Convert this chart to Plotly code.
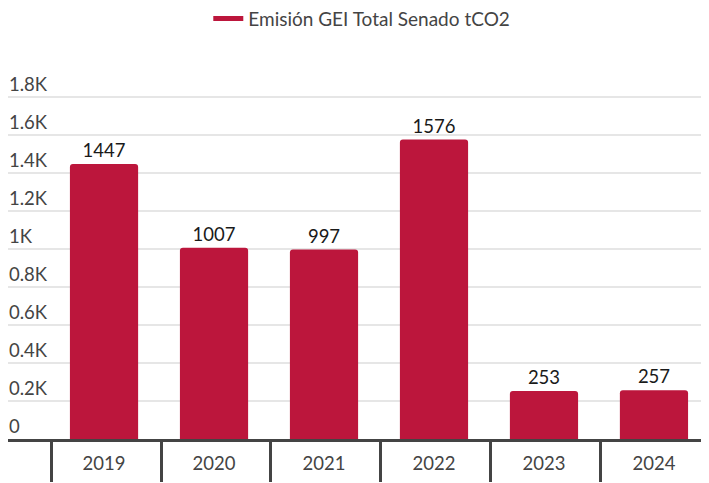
import plotly.graph_objects as go

years = ["2019", "2020", "2021", "2022", "2023", "2024"]
emissions = [1447, 1007, 997, 1576, 253, 257]
series_name = "Emisión GEI Total Senado tCO2"
y_tickvals = [0, 200, 400, 600, 800, 1000, 1200, 1400, 1600, 1800]
y_ticktext = ["0", "0.2K", "0.4K", "0.6K", "0.8K", "1K", "1.2K", "1.4K", "1.6K", "1.8K"]

RED = "#BC163C"
FONT = "Lato"

fig = go.Figure()
fig.add_trace(go.Bar(
    x=years, y=emissions, name=series_name, showlegend=False,
    marker=dict(color=RED, cornerradius=3, line=dict(width=0)),
    width=0.62,
    text=[str(v) for v in emissions], textposition="outside",
    textfont=dict(size=18.5, color="#1a1a1a", family=FONT),
    cliponaxis=False,
))
# legend entry (line symbol)
fig.add_trace(go.Scatter(
    x=years, y=[None] * len(years), mode="lines", name=series_name,
    line=dict(color=RED, width=5), xaxis="x2", hoverinfo="skip",
))

xr = [-0.873, 5.573]
xr2 = [-0.891, 5.555]
fig.update_layout(
    width=709, height=483,
    margin=dict(l=0, r=0, t=51, b=52, autoexpand=False),
    plot_bgcolor="white", paper_bgcolor="white",
    font=dict(family=FONT, size=18, color="#444"),
    showlegend=True,
    legend=dict(orientation="h", x=0.499, xanchor="center", y=1.106, yref="paper",
                yanchor="middle", font=dict(size=19, color="#444"), bgcolor="rgba(0,0,0,0)"),
    xaxis=dict(type="category", categoryarray=years, range=xr, automargin=False,
               showline=True, linecolor="#444", linewidth=3, ticks="",
               showgrid=False, tickfont=dict(size=18.5, color="#444"),
               ticklabelstandoff=6),
    xaxis2=dict(type="category", categoryarray=years, range=xr2, overlaying="x",
                anchor="y", side="bottom", showticklabels=False, showgrid=False,
                automargin=False,
                showline=False, ticks="outside", tickson="boundaries",
                ticklen=42, tickwidth=3, tickcolor="#444"),
    yaxis=dict(range=[0, 2000], tickvals=y_tickvals, ticktext=y_ticktext,
               automargin=False,
               showgrid=True, gridcolor="#e6e6e6", gridwidth=2, zeroline=False,
               showline=False, ticks="", ticklabelposition="inside top",
               ticklabelstandoff=-2, tickfont=dict(size=18.5, color="#444")),
    bargap=0.38,
)
fig.write_html("out.html")
